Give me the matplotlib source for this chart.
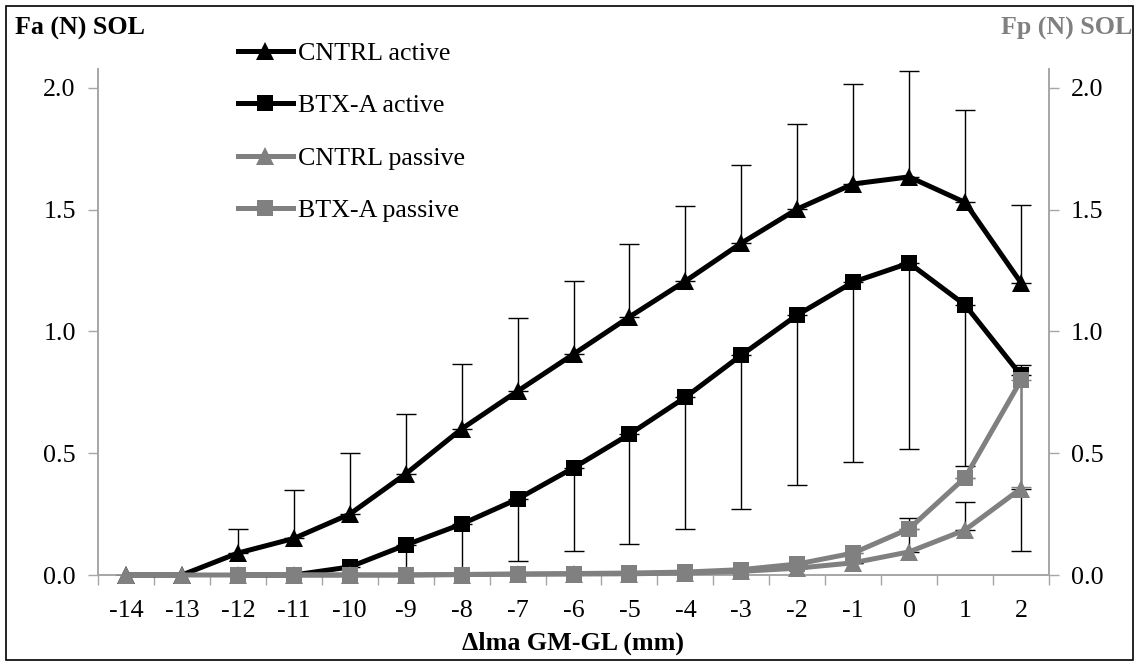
import matplotlib
matplotlib.use("Agg")
import matplotlib.pyplot as plt
import numpy as np
from matplotlib.patches import Rectangle

# ---- data ----
x_labels = ["-14", "-13", "-12", "-11", "-10", "-9", "-8", "-7", "-6", "-5",
            "-4", "-3", "-2", "-1", "0", "1", "2"]
cntrl_active = [0, 0, 0.09, 0.15, 0.25, 0.415, 0.60, 0.755, 0.907, 1.06,
                1.207, 1.363, 1.503, 1.606, 1.635, 1.53, 1.20]
cntrl_active_sd = [0, 0, 0.10, 0.20, 0.25, 0.245, 0.265, 0.30, 0.30, 0.30,
                   0.31, 0.32, 0.35, 0.41, 0.435, 0.38, 0.32]
btx_active = [np.nan, np.nan, 0, 0, 0.033, 0.123, 0.209, 0.312, 0.44, 0.578,
              0.73, 0.903, 1.068, 1.203, 1.281, 1.109, 0.82]
btx_active_sd = [0, 0, 0, 0, 0.05, 0.16, 0.24, 0.254, 0.34, 0.45,
                 0.54, 0.63, 0.70, 0.74, 0.764, 0.66, 0.72]
cntrl_passive = [0, 0, 0, 0, 0, 0, 0.002, 0.003, 0.004, 0.005,
                 0.008, 0.015, 0.028, 0.05, 0.095, 0.185, 0.355]
cntrl_passive_sd = [0, 0, 0, 0, 0, 0, 0, 0, 0, 0,
                    0, 0, 0, 0, 0.139, 0.115, 0.507]
btx_passive = [np.nan, np.nan, 0, 0, 0, 0, 0.002, 0.004, 0.006, 0.008,
               0.012, 0.022, 0.045, 0.09, 0.19, 0.40, 0.80]
btx_passive_sd = [0, 0, 0, 0, 0, 0, 0, 0, 0, 0,
                  0, 0, 0, 0, 0, 0, 0.44]

GREY = "#808080"
AXC = "#A6A6A6"
FS = 18.7
LW = 3.6
MS = 12.5

plt.rcParams["font.family"] = ["Liberation Serif", "DejaVu Serif"]

fig = plt.figure(figsize=(11.39, 6.65), dpi=100)
W, H = 1139, 665
ax = fig.add_axes([98 / W, (H - 575) / H, (1049 - 98) / W, (575 - 69) / H])
xs = np.arange(len(x_labels))
ymax = 2.078

# error bars (active)
ax.errorbar(xs, cntrl_active, yerr=[np.zeros(len(xs)), cntrl_active_sd],
            fmt="none", ecolor="black", elinewidth=1.0, capsize=7, capthick=1.0, zorder=2)
ax.errorbar(xs, btx_active, yerr=[btx_active_sd, np.zeros(len(xs))],
            fmt="none", ecolor="black", elinewidth=1.0, capsize=7, capthick=1.0, zorder=2)
l1, = ax.plot(xs, cntrl_active, color="black", lw=LW, marker="^", ms=MS,
              markeredgewidth=0, zorder=3, label="CNTRL active", clip_on=False)
l2, = ax.plot(xs, btx_active, color="black", lw=LW, marker="s", ms=MS - 1.5,
              markeredgewidth=0, zorder=3, label="BTX-A active", clip_on=False)

ax.set_xlim(-0.5, len(xs) - 0.5)
ax.set_ylim(0, ymax)
ax.set_xticks(np.arange(-0.5, len(xs), 1.0))
ax.set_xticklabels([])
ax.set_xticks(xs, minor=True)
ax.set_xticklabels(x_labels, minor=True)
ax.tick_params(axis="x", which="major", length=7, width=1, color=AXC, direction="out")
ax.tick_params(axis="x", which="minor", length=0, pad=18, labelsize=FS)
ax.set_yticks([0, 0.5, 1.0, 1.5, 2.0])
ax.set_yticklabels(["0.0", "0.5", "1.0", "1.5", "2.0"])
ax.tick_params(axis="y", length=7, width=1, color=AXC, direction="out", pad=9, labelsize=FS)
ax.spines["top"].set_visible(False)
for s in ["left", "right", "bottom"]:
    ax.spines[s].set_color(AXC)
    ax.spines[s].set_linewidth(1.2)

ax2 = ax.twinx()
ax2.set_ylim(0, ymax)
ax2.errorbar(xs, cntrl_passive, yerr=[np.zeros(len(xs)), cntrl_passive_sd],
             fmt="none", ecolor="black", elinewidth=1.0, capsize=7, capthick=1.0, zorder=2)
ax2.errorbar(xs, btx_passive, yerr=[btx_passive_sd, np.zeros(len(xs))],
             fmt="none", ecolor=GREY, elinewidth=1.0, capsize=7, capthick=1.0, zorder=2)
l3, = ax2.plot(xs, cntrl_passive, color=GREY, lw=LW, marker="^", ms=MS,
               markeredgewidth=0, zorder=3, label="CNTRL passive", clip_on=False)
l4, = ax2.plot(xs, btx_passive, color=GREY, lw=LW, marker="s", ms=MS - 1.5,
               markeredgewidth=0, zorder=3, label="BTX-A passive", clip_on=False)
ax2.set_yticks([0, 0.5, 1.0, 1.5, 2.0])
ax2.set_yticklabels(["0.0", "0.5", "1.0", "1.5", "2.0"])
ax2.tick_params(axis="y", length=7, width=1, color=AXC, direction="out", pad=9, labelsize=FS)
ax2.spines["top"].set_visible(False)
for s in ["left", "right", "bottom"]:
    ax2.spines[s].set_color(AXC)
    ax2.spines[s].set_linewidth(1.2)

# labels
fig.text(15 / W, 1 - 28 / H, "Fa (N) SOL", fontsize=FS, fontweight="bold",
         color="black", ha="left", va="center")
fig.text(1132 / W, 1 - 28 / H, "Fp (N) SOL", fontsize=FS, fontweight="bold",
         color=GREY, ha="right", va="center")
fig.text((98 + 1049) / 2 / W, 1 - 643 / H, "\u0394lma GM-GL (mm)", fontsize=FS,
         fontweight="bold", ha="center", va="center")

leg = fig.legend(handles=[l1, l2, l3, l4], loc="upper left",
                 bbox_to_anchor=(238 / W, 1 - 42 / H), frameon=False,
                 fontsize=FS, handlelength=2.1, handletextpad=0.2,
                 labelspacing=1.12, borderpad=0, borderaxespad=0, numpoints=1)

fig.patches.append(Rectangle((5.5 / W, 5.5 / H), (1133 - 5.5) / W, (659.5 - 5.5) / H,
                             transform=fig.transFigure, fill=False,
                             edgecolor="black", linewidth=1.2))

fig.savefig("out.png", dpi=100)
